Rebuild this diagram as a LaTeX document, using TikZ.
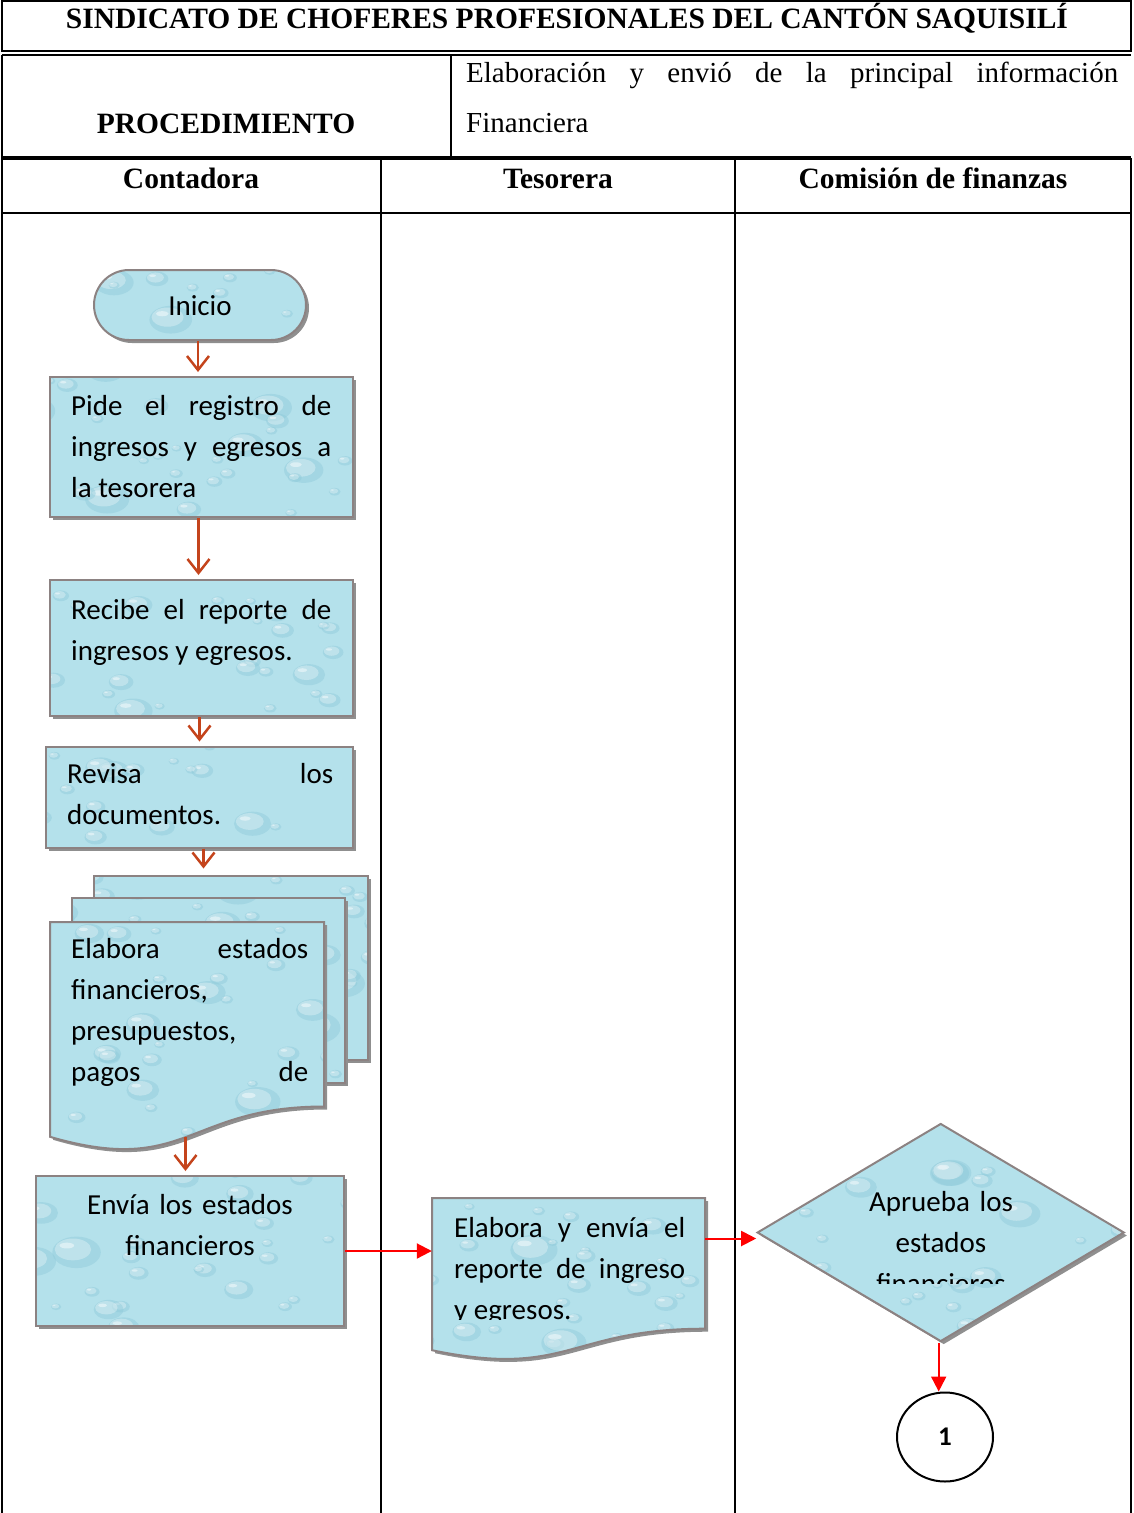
\documentclass[tikz,border=0pt]{standalone}
\usepackage{fontspec}
\setmainfont{Liberation Serif}
\newfontfamily\carl{Carlito}
\usetikzlibrary{arrows.meta,shapes.geometric,shapes.misc,shadows}

\definecolor{edgegray}{HTML}{8C8282}
\definecolor{waterbase}{HTML}{B4E1EB}
\definecolor{dropshade}{HTML}{8FCADA}
\definecolor{shadowgray}{HTML}{8F8F8F}
\definecolor{flowarrow}{HTML}{C4441C}

% strut fixing the height of the first line of a text block
\newcommand{\lnstrut}{\rule{0pt}{30pt}}

\begin{document}
\begin{tikzpicture}[x=1pt,y=-1pt,
  frame/.style={line width=2pt,black},
  water/.style={fill=waterbase, draw=edgegray, line width=2pt,
    drop shadow={shadow xshift=3pt, shadow yshift=-3pt, fill=shadowgray, opacity=1},
    path picture={
      \begin{scope}[shift={(path picture bounding box.center)}]
        \pgfmathsetseed{#1}
        \foreach \k in {1,...,45}{
          \pgfmathsetmacro\dx{rand*200}
          \pgfmathsetmacro\dy{rand*120}
          \pgfmathsetmacro\dr{5+22*rnd*rnd}
          \fill[dropshade,opacity=.45] (\dx,\dy) ellipse [x radius=\dr, y radius=0.65*\dr];
          \fill[white,opacity=.3] (\dx-0.15*\dr,\dy-0.12*\dr) ellipse [x radius=0.75*\dr, y radius=0.45*\dr];
          \fill[white,opacity=.45] (\dx-0.4*\dr,\dy-0.28*\dr) ellipse [x radius=0.3*\dr, y radius=0.12*\dr];
        }
      \end{scope}
    }},
  body/.style={inner sep=0, font=\carl\fontsize{29}{41}\selectfont},
  jtext/.style={body, anchor=north west, align=justify, text width=#1},
  ctext/.style={body, anchor=north, align=center, text width=#1},
  head/.style={anchor=base, inner sep=0, font=\bfseries\fontsize{29.5}{35}\selectfont},
  flow/.style={draw=flowarrow, line width=2.5pt,
    -{Straight Barb[length=14pt,width=22pt,line width=2.5pt]}},
  redflow/.style={draw=red, line width=2pt,
    -{Triangle[length=15pt,width=15pt]}}
]
\useasboundingbox (0,0) rectangle (1133,1513);

% ---------- table frame ----------
\draw[frame] (2,1) rectangle (1131,51);
\draw[frame] (2,54.5) -- (1131,54.5);
\draw[frame] (2,54.5) -- (2,158);
\draw[frame] (451,54.5) -- (451,158);
\draw[line width=3.5pt] (2,158) -- (1131,158);
\draw[frame] (2,158) -- (2,1513);
\draw[frame] (1131,158) -- (1131,1513);
\draw[frame] (2,213) -- (1131,213);
\draw[frame] (381,158) -- (381,1513);
\draw[frame] (735,158) -- (735,1513);

% ---------- header texts ----------
\node[head] (title) at (567,28) {SINDICATO DE CHOFERES PROFESIONALES DEL CANTÓN SAQUISILÍ};
\node[head] (proc) at (226,133) {PROCEDIMIENTO};
\node[anchor=north west, inner sep=0, align=justify, text width=652pt,
      font=\fontsize{29}{50}\selectfont] (procname) at (466,52)
  {\noindent\lnstrut Elaboración y envió de la principal información\linebreak Financiera};
\node[head] (lane1) at (191,188) {Contadora};
\node[head] (lane2) at (558,188) {Tesorera};
\node[head] (lane3) at (933,188) {Comisión de finanzas};

% ---------- Contadora ----------
\node[water=3, rounded rectangle, minimum width=212pt, minimum height=70pt, inner sep=0] (ini) at (200,305) {};
\node[body, anchor=base] (init) at (200,315) {Inicio};

\node[water=7, rectangle, minimum width=303pt, minimum height=140pt, inner sep=0] (b1) at (201.5,447) {};
\node[jtext=260pt] (b1t) at (71,385)
  {\noindent\lnstrut Pide el registro de\linebreak ingresos y egresos a\linebreak la tesorera};

\node[water=11, rectangle, minimum width=303pt, minimum height=136pt, inner sep=0] (b2) at (201.5,648) {};
\node[jtext=260pt] (b2t) at (71,589)
  {\noindent\lnstrut Recibe el reporte de\linebreak ingresos y egresos.};

\node[water=13, rectangle, minimum width=307pt, minimum height=101pt, inner sep=0] (b3) at (199.5,797) {};
\node[jtext=266pt] (b3t) at (67,753)
  {\noindent\lnstrut Revisa los\linebreak documentos.};

% stack of documents
\node[water=17, rectangle, minimum width=274pt, minimum height=184pt, inner sep=0] (md3) at (231,967.5) {};
\node[water=19, rectangle, minimum width=273pt, minimum height=185pt, inner sep=0] (md2) at (208.5,990.5) {};
\path[water=23] (50,922) -- (324,922) -- (324,1106.5)
  .. controls (187,1106.5) and (187,1176.7) .. (50,1136.8) -- cycle;
\node[inner sep=0, minimum width=274pt, minimum height=215pt] (md1) at (187,1029.5) {};
\coordinate (md1b) at (185.5,1137);
\node[jtext=237pt] (md1t) at (71,928)
  {\noindent\lnstrut Elabora estados\linebreak financieros,\linebreak presupuestos,\linebreak pagos\hfill de};

\node[water=29, rectangle, minimum width=308pt, minimum height=150pt, inner sep=0] (b4) at (190,1251) {};
\node[ctext=300pt] (b4t) at (190,1184) {\lnstrut Envía los estados\\financieros};

% ---------- Tesorera ----------
\path[water=31] (432,1198) -- (705,1198) -- (705,1328.7)
  .. controls (568.5,1328.7) and (568.5,1378.5) .. (432,1350.2) -- cycle;
\node[inner sep=0, minimum width=273pt, minimum height=160pt] (doc) at (568.5,1278) {};
\begin{scope}
  \clip (432,1198) rectangle (705,1319);
  \node[jtext=231pt] (doct) at (454,1207)
    {\noindent\lnstrut Elabora y envía el\linebreak reporte de ingreso\linebreak y egresos.};
\end{scope}

% ---------- Comisión de finanzas ----------
\node[water=37, diamond, minimum width=367pt, minimum height=218pt, inner sep=0] (dia) at (940.7,1232.5) {};
\begin{scope}
  \clip (760,1130) rectangle (1120,1283);
  \node[ctext=260pt] (diat) at (941,1181) {\lnstrut Aprueba los\\estados\\financieros};
\end{scope}

\node[draw=black, line width=2pt, ellipse, minimum width=96pt, minimum height=89pt, inner sep=0,
      font=\carl\bfseries\fontsize{27}{32}\selectfont] (c1) at (945,1437) {1};

% ---------- connectors ----------
\draw[flow, shorten >=4pt] ([xshift=-2]ini.south) -- ([xshift=-2]ini.south |- b1.north);
\draw[flow, shorten >=4pt] ([xshift=-3]b1.south) -- ([xshift=-3]b1.south |- b2.north);
\draw[flow, shorten >=4pt] ([xshift=-2]b2.south) -- ([xshift=-2]b2.south |- b3.north);
\draw[flow, shorten >=6pt] ([xshift=4]b3.south) -- ([xshift=4]b3.south |- md3.north);
\draw[flow, shorten >=4pt] (md1b) -- (md1b |- b4.north);
\draw[redflow] (b4.east) -- (b4.east -| doc.west);
\draw[redflow] ([yshift=-6]dia.west -| doc.east) -- ([yshift=-6]dia.west);
\draw[redflow] ([xshift=-2]dia.south) -- ([xshift=-2]dia.south |- c1.north);
\end{tikzpicture}
\end{document}
